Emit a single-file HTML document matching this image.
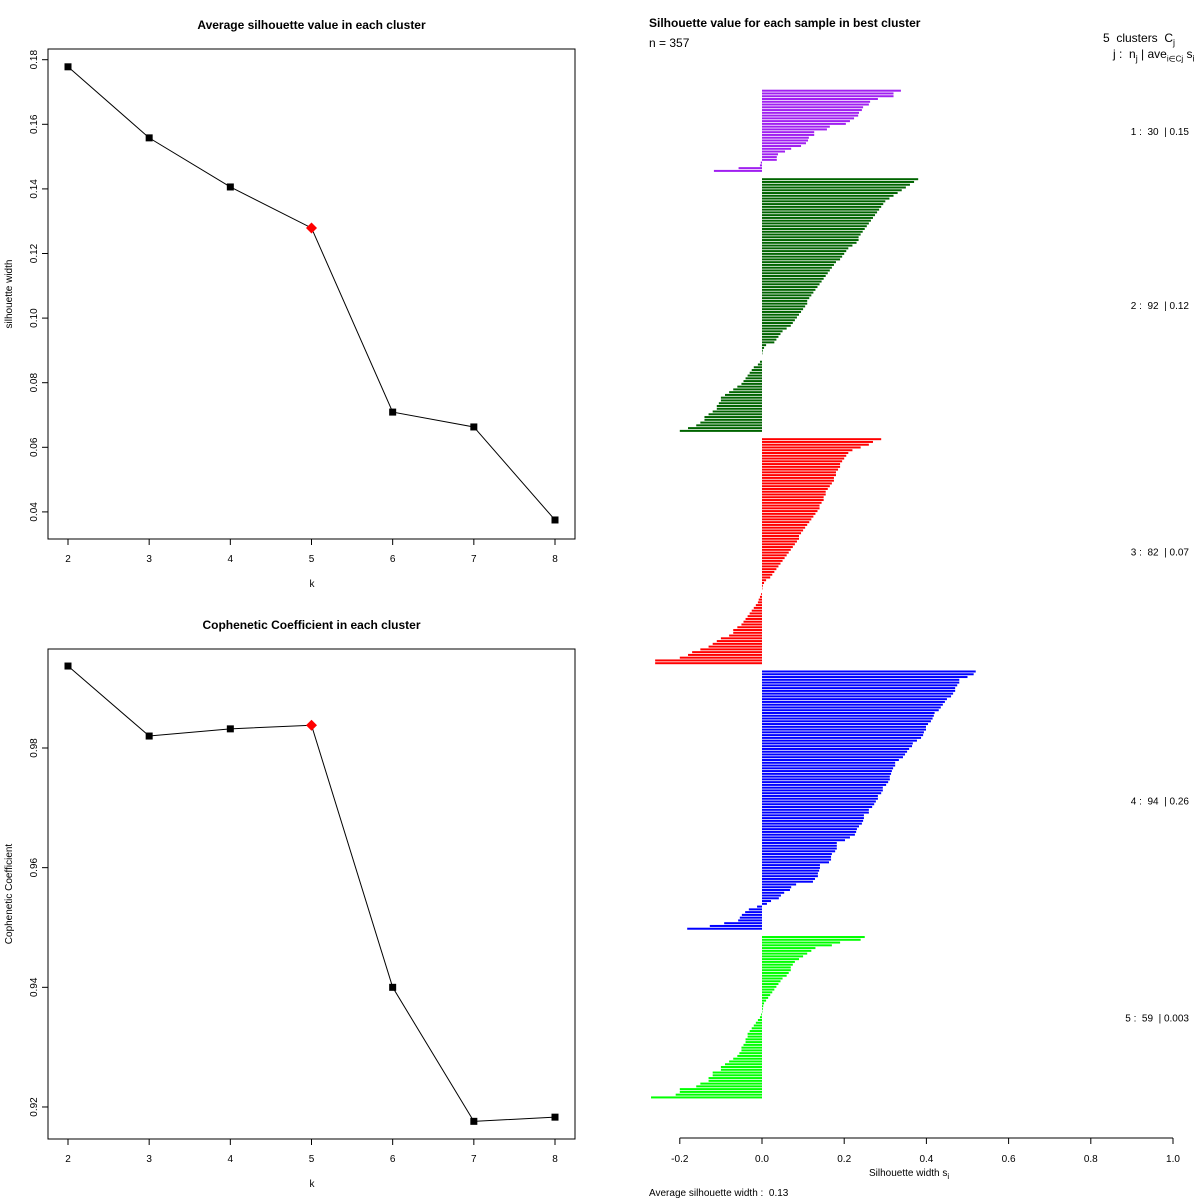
<!DOCTYPE html>
<html><head><meta charset="utf-8"><style>
html,body{margin:0;padding:0;background:#fff;}
svg{display:block;font-family:"Liberation Sans",Arial,sans-serif;}
</style></head><body>
<svg id="chart" width="1200" height="1200" viewBox="0 0 1200 1200" xmlns="http://www.w3.org/2000/svg">
<rect width="1200" height="1200" fill="#fff"/>
<g id="p1"></g>
<g id="p2"></g>
<g id="p3"></g>
</svg>
<script>
const kValues = [2,3,4,5,6,7,8];
const silValues = [0.1778,0.1558,0.1406,0.1279,0.0709,0.0663,0.0375];
const copheneticValues = [0.9937,0.9820,0.9832,0.9838,0.9400,0.9176,0.9183];
const bestK = 5;
const silTicks = [0.04,0.06,0.08,0.10,0.12,0.14,0.16,0.18];
const copTicks = [0.92,0.94,0.96,0.98];
const clusterSizes = [30,92,82,94,59];
const clusterAvgLabels = ["0.15","0.12","0.07","0.26","0.003"];
const clusterColors = ["#a020f0","#006400","#ff0000","#0000ff","#00ff00"];
const cluster1 = [0.338,0.32,0.32,0.282,0.263,0.26,0.246,0.243,0.236,0.234,0.224,0.214,0.204,0.165,0.158,0.127,0.127,0.114,0.112,0.107,0.095,0.071,0.056,0.039,0.036,0.036,-0.003,-0.005,-0.057,-0.117];
const cluster2 = [0.38,0.37,0.36,0.35,0.34,0.33,0.32,0.31,0.30,0.295,0.29,0.285,0.28,0.275,0.27,0.265,0.26,0.255,0.25,0.245,0.24,0.235,0.235,0.23,0.22,0.21,0.205,0.20,0.195,0.19,0.18,0.175,0.17,0.165,0.16,0.155,0.15,0.145,0.14,0.135,0.13,0.125,0.12,0.115,0.11,0.11,0.105,0.10,0.095,0.09,0.085,0.08,0.075,0.07,0.06,0.05,0.045,0.04,0.035,0.03,0.01,0.005,0.002,0.001,0,0,-0.005,-0.01,-0.02,-0.025,-0.03,-0.035,-0.04,-0.045,-0.05,-0.06,-0.07,-0.08,-0.09,-0.1,-0.1,-0.105,-0.11,-0.11,-0.12,-0.13,-0.14,-0.14,-0.15,-0.16,-0.18,-0.2];
const cluster3 = [0.29,0.27,0.26,0.24,0.22,0.21,0.205,0.2,0.195,0.19,0.19,0.185,0.18,0.18,0.175,0.175,0.17,0.165,0.16,0.155,0.155,0.15,0.15,0.145,0.14,0.14,0.135,0.13,0.125,0.12,0.115,0.11,0.105,0.1,0.095,0.09,0.09,0.085,0.08,0.075,0.07,0.065,0.06,0.055,0.05,0.045,0.04,0.035,0.03,0.025,0.02,0.01,0.005,0.002,0.001,0,-0.002,-0.005,-0.008,-0.01,-0.015,-0.02,-0.025,-0.03,-0.035,-0.04,-0.045,-0.05,-0.06,-0.07,-0.07,-0.08,-0.1,-0.11,-0.12,-0.13,-0.15,-0.17,-0.18,-0.2,-0.26,-0.26];
const cluster4 = [0.52,0.515,0.50,0.48,0.48,0.475,0.47,0.47,0.465,0.46,0.45,0.445,0.44,0.435,0.43,0.42,0.418,0.415,0.411,0.404,0.399,0.399,0.394,0.392,0.387,0.377,0.367,0.365,0.358,0.353,0.348,0.343,0.333,0.324,0.324,0.319,0.316,0.314,0.311,0.311,0.307,0.302,0.294,0.294,0.29,0.282,0.282,0.277,0.273,0.268,0.26,0.26,0.248,0.248,0.246,0.243,0.236,0.231,0.229,0.226,0.214,0.202,0.182,0.182,0.182,0.178,0.17,0.168,0.168,0.163,0.141,0.141,0.139,0.136,0.136,0.129,0.124,0.083,0.071,0.068,0.054,0.046,0.041,0.022,0.012,-0.012,-0.032,-0.041,-0.049,-0.054,-0.058,-0.092,-0.127,-0.182];
const cluster5 = [0.25,0.24,0.19,0.17,0.13,0.12,0.11,0.10,0.09,0.08,0.075,0.07,0.07,0.065,0.06,0.05,0.045,0.04,0.035,0.03,0.025,0.02,0.015,0.01,0.005,0.003,0.002,0.001,-0.002,-0.005,-0.01,-0.015,-0.02,-0.025,-0.03,-0.035,-0.035,-0.04,-0.04,-0.045,-0.05,-0.05,-0.055,-0.06,-0.07,-0.08,-0.09,-0.1,-0.1,-0.12,-0.12,-0.13,-0.13,-0.15,-0.16,-0.2,-0.2,-0.21,-0.27];
const silXTicks = [-0.2,0,0.2,0.4,0.6,0.8,1.0];
const silXTickLabels = ["-0.2","0.0","0.2","0.4","0.6","0.8","1.0"];
const NS="http://www.w3.org/2000/svg";
function mk(parent,tag,attrs,text){const e=document.createElementNS(NS,tag);for(const k in attrs)e.setAttribute(k,attrs[k]);if(text!==undefined)e.textContent=text;parent.appendChild(e);return e;}

function linePanel(g,vals,ticks,ymap,top,title,ylab){
  const L=48,R=575,T=top,B=top+490;
  const xs=k=>68+(k-2)*(555-68)/6;
  let t=mk(g,'text',{x:(L+R)/2,y:T-20,'text-anchor':'middle','font-size':12,'font-weight':'bold'},title);
  
  
  let r=mk(g,'rect',{x:L,y:T,width:R-L,height:B-T,fill:'none',stroke:'#000','stroke-width':1});
  
  
  kValues.forEach(k=>{
    const x=xs(k);
    mk(g,'line',{x1:x,x2:x,y1:B,y2:B+6,stroke:'#000'});
    const tl=mk(g,'text',{x:x,y:B+23,'text-anchor':'middle','font-size':10},String(k));
    
    
  });
  ticks.forEach(v=>{
    const y=ymap(v);
    mk(g,'line',{x1:L-6,x2:L,y1:y,y2:y,stroke:'#000'});
    const tl=mk(g,'text',{x:0,y:0,'text-anchor':'middle','font-size':10,transform:`translate(37,${y}) rotate(-90)`},v.toFixed(2));
    
    
  });
  let xl=mk(g,'text',{x:312,y:B+48,'text-anchor':'middle','font-size':10},'k');
  
  
  let yl=mk(g,'text',{x:0,y:0,'text-anchor':'middle','font-size':10,transform:`translate(12,${(T+B)/2}) rotate(-90)`},ylab);
  
  
  const pts=vals.map((v,i)=>xs(kValues[i])+','+ymap(v)).join(' ');
  let pl=mk(g,'polyline',{points:pts,fill:'none',stroke:'#000','stroke-width':1});
  
  
  vals.forEach((v,i)=>{
    const x=xs(kValues[i]),y=ymap(v);
    let m;
    if(kValues[i]===bestK){m=mk(g,'polygon',{points:`${x},${y-5.5} ${x+5.5},${y} ${x},${y+5.5} ${x-5.5},${y}`,fill:'#ff0000'});
      }
    else{m=mk(g,'rect',{x:x-3.5,y:y-3.5,width:7,height:7,fill:'#000'});
      }
    
  });
}
linePanel(document.getElementById('p1'),silValues,silTicks,v=>59.7+(0.18-v)*3230,49,'Average silhouette value in each cluster','silhouette width');
linePanel(document.getElementById('p2'),copheneticValues,copTicks,v=>748+(0.98-v)*5983,649,'Cophenetic Coefficient in each cluster','Cophenetic Coefficient');

(function(){
  const g=document.getElementById('p3');
  const xmap=v=>762+v*411;
  const clusters=[cluster1,cluster2,cluster3,cluster4,cluster5];
  const total=clusterSizes.reduce((a,b)=>a+b,0)+2*(clusterSizes.length-1);
  const top=89.5,bot=1099,slot=(bot-top)/total;
  let pos=0;
  const labelYs=[];
  clusters.forEach((vals,ci)=>{
    const start=pos;
    vals.forEach(v=>{
      const y=top+pos*slot;
      const x0=Math.min(xmap(0),xmap(v)),w=Math.abs(xmap(v)-xmap(0));
      const b=mk(g,'rect',{x:x0,y:y+0.2,width:w,height:slot*0.72,fill:clusterColors[ci]});
      
      
      pos+=1;
    });
    labelYs.push(top+(start+pos)/2*slot);
    pos+=2;
  });
  labelYs.forEach((y,i)=>{
    const t=mk(g,'text',{x:1189,y:y+4,'text-anchor':'end','font-size':10,style:'white-space:pre'},`${i+1} :  ${clusterSizes[i]}  | ${clusterAvgLabels[i]}`);
    
    
  });
  const ay=1138;
  mk(g,'line',{x1:xmap(-0.2),x2:xmap(1.0),y1:ay,y2:ay,stroke:'#000'});
  silXTicks.forEach((v,i)=>{
    mk(g,'line',{x1:xmap(v),x2:xmap(v),y1:ay,y2:ay+6,stroke:'#000'});
    const t=mk(g,'text',{x:xmap(v),y:ay+24,'text-anchor':'middle','font-size':10},silXTickLabels[i]);
    
    
  });
})();
</script>
<div style="position:absolute;left:0;top:0;width:1200px;height:1200px;pointer-events:none;font-family:'Liberation Sans',Arial,sans-serif;">
  <div style="position:absolute;left:649px;top:16px;font-size:12px;font-weight:bold;">Silhouette value for each sample in best cluster</div>
  <div style="position:absolute;left:649px;top:36px;font-size:12px;">n = 357</div>
  <div style="position:absolute;left:1103px;top:31px;font-size:12px;white-space:nowrap;">5 &nbsp;clusters &nbsp;C<sub style="font-size:9px">j</sub></div>
  <div style="position:absolute;left:1113px;top:47px;font-size:12px;white-space:nowrap;">j : &nbsp;n<sub style="font-size:9px">j</sub> | ave<sub style="font-size:8px">i∈Cj</sub> s<sub style="font-size:9px">i</sub></div>
  <div style="position:absolute;left:869px;top:1168px;font-size:10px;white-space:nowrap;">Silhouette width s<sub style="font-size:8px">i</sub></div>
  <div style="position:absolute;left:649px;top:1188px;font-size:10px;white-space:nowrap;">Average silhouette width : &nbsp;0.13</div>
</div>
</body></html>
